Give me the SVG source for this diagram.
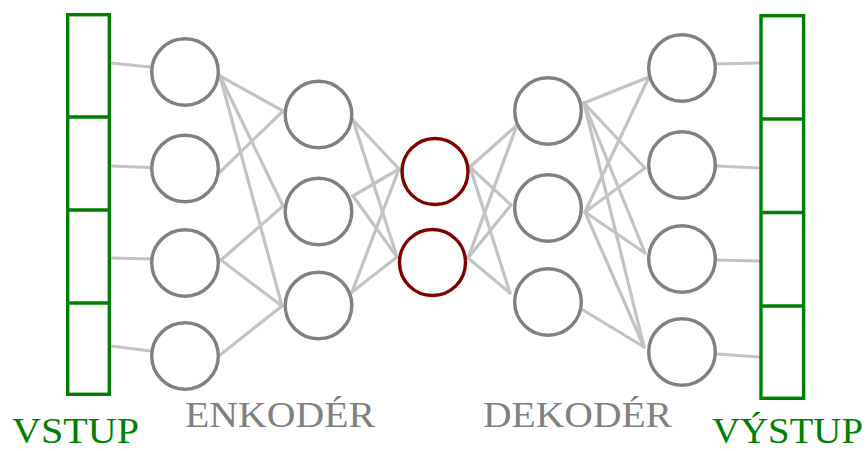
<svg xmlns="http://www.w3.org/2000/svg" width="866" height="451" viewBox="0 0 866 451">
<style>
.edge{stroke:#c3c3c3;stroke-width:3.2;fill:none;stroke-linecap:round}
.n{fill:#fff;stroke:#808080;stroke-width:3.4}
.b{fill:#fff;stroke:#800000;stroke-width:3.4}
.box{fill:#fff;stroke:#008000;stroke-width:3.4}
.lbl{font-family:"Liberation Serif","DejaVu Serif",serif;font-size:36px}
.g{fill:#008000}
.gr{fill:#808080}
</style>
<rect width="866" height="451" fill="#fff"/>
<g id="connectors">
<line class="edge" x1="111" y1="63" x2="150" y2="67"/>
<line class="edge" x1="111" y1="166" x2="150" y2="167.5"/>
<line class="edge" x1="111" y1="258" x2="151" y2="259"/>
<line class="edge" x1="111" y1="346" x2="151" y2="351"/>
<line class="edge" x1="220" y1="76" x2="283" y2="111"/>
<line class="edge" x1="220" y1="76" x2="283" y2="206"/>
<line class="edge" x1="220" y1="76" x2="282" y2="306"/>
<line class="edge" x1="220" y1="172" x2="283" y2="111"/>
<line class="edge" x1="221" y1="260" x2="283" y2="206"/>
<line class="edge" x1="221" y1="260" x2="282" y2="306"/>
<line class="edge" x1="220" y1="355" x2="282" y2="306"/>
<line class="edge" x1="353" y1="120" x2="399" y2="169"/>
<line class="edge" x1="353" y1="120" x2="397" y2="257"/>
<line class="edge" x1="353" y1="196" x2="399" y2="169"/>
<line class="edge" x1="353" y1="196" x2="397" y2="257"/>
<line class="edge" x1="352" y1="292" x2="399" y2="169"/>
<line class="edge" x1="352" y1="292" x2="397" y2="257"/>
<line class="edge" x1="470" y1="167" x2="517" y2="125"/>
<line class="edge" x1="470" y1="167" x2="511" y2="205"/>
<line class="edge" x1="470" y1="167" x2="510" y2="293"/>
<line class="edge" x1="468" y1="258" x2="517" y2="125"/>
<line class="edge" x1="468" y1="258" x2="511" y2="205"/>
<line class="edge" x1="468" y1="258" x2="510" y2="293"/>
<line class="edge" x1="584" y1="103" x2="649" y2="77"/>
<line class="edge" x1="584" y1="103" x2="645" y2="168"/>
<line class="edge" x1="584" y1="103" x2="645" y2="253"/>
<line class="edge" x1="584" y1="103" x2="644" y2="347"/>
<line class="edge" x1="585" y1="212" x2="649" y2="77"/>
<line class="edge" x1="585" y1="212" x2="645" y2="168"/>
<line class="edge" x1="585" y1="212" x2="645" y2="253"/>
<line class="edge" x1="585" y1="212" x2="644" y2="347"/>
<line class="edge" x1="583" y1="310" x2="644" y2="347"/>
<line class="edge" x1="717" y1="64" x2="759" y2="63"/>
<line class="edge" x1="717" y1="166" x2="759" y2="168"/>
<line class="edge" x1="717" y1="260" x2="759" y2="261"/>
<line class="edge" x1="717" y1="354" x2="759" y2="357"/>
</g>
<g id="input">
<rect class="box" x="67.7" y="14.7" width="41.6" height="379.6"/>
<line class="box" x1="67.7" y1="117" x2="109.3" y2="117"/>
<line class="box" x1="67.7" y1="210" x2="109.3" y2="210"/>
<line class="box" x1="67.7" y1="303" x2="109.3" y2="303"/>
</g>
<g id="output">
<rect class="box" x="761" y="15.7" width="42.6" height="382.6"/>
<line class="box" x1="761" y1="119" x2="803.6" y2="119"/>
<line class="box" x1="761" y1="212.5" x2="803.6" y2="212.5"/>
<line class="box" x1="761" y1="306" x2="803.6" y2="306"/>
</g>
<g id="enc1">
<circle class="n" cx="185" cy="72" r="33.3"/>
<circle class="n" cx="185" cy="168.5" r="33.3"/>
<circle class="n" cx="185" cy="263" r="33.3"/>
<circle class="n" cx="185" cy="356" r="33.3"/>
</g>
<g id="enc2">
<circle class="n" cx="318.5" cy="114.5" r="33.3"/>
<circle class="n" cx="318.5" cy="211.5" r="33.3"/>
<circle class="n" cx="318.5" cy="305.5" r="33.3"/>
</g>
<g id="bottleneck">
<circle class="b" cx="435" cy="171.5" r="33"/>
<circle class="b" cx="432.5" cy="262.5" r="33"/>
</g>
<g id="dec1">
<circle class="n" cx="548" cy="111" r="33.3"/>
<circle class="n" cx="548" cy="208" r="33.3"/>
<circle class="n" cx="548" cy="302" r="33.3"/>
</g>
<g id="dec2">
<circle class="n" cx="682" cy="68" r="33.3"/>
<circle class="n" cx="682" cy="165" r="33.3"/>
<circle class="n" cx="682" cy="259" r="33.3"/>
<circle class="n" cx="682" cy="352" r="33.3"/>
</g>
<g id="labels">
<text class="lbl g" x="12" y="443" textLength="127" lengthAdjust="spacingAndGlyphs">VSTUP</text>
<text class="lbl gr" x="185" y="427" textLength="190" lengthAdjust="spacingAndGlyphs">ENKODÉR</text>
<text class="lbl gr" x="483" y="427" textLength="189" lengthAdjust="spacingAndGlyphs">DEKODÉR</text>
<text class="lbl g" x="712" y="443" textLength="151" lengthAdjust="spacingAndGlyphs">VÝSTUP</text>
</g>
</svg>
